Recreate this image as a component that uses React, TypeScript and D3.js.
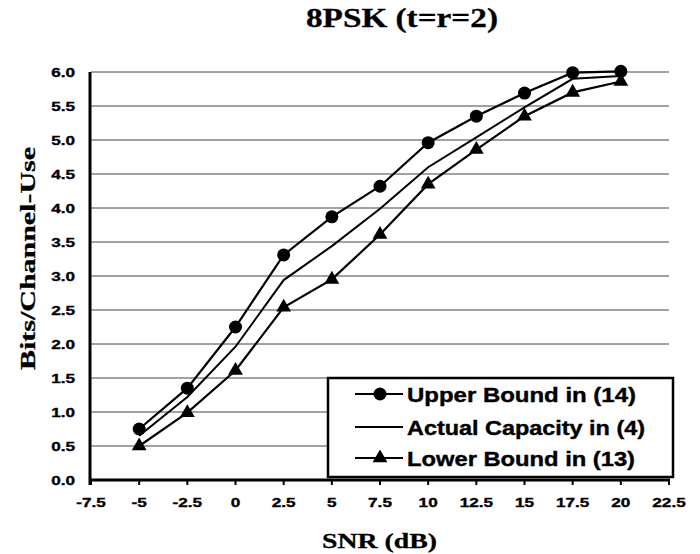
import React from "react";
import * as d3 from "d3";

const snr = [-5, -2.5, 0, 2.5, 5, 7.5, 10, 12.5, 15, 17.5, 20];
const upperBound = [0.75, 1.35, 2.25, 3.31, 3.87, 4.32, 4.96, 5.35, 5.69, 5.99, 6.01];
const actualCapacity = [0.65, 1.22, 1.96, 2.94, 3.44, 3.99, 4.6, 5.04, 5.48, 5.9, 5.94];
const lowerBound = [0.5, 0.99, 1.61, 2.54, 2.95, 3.61, 4.35, 4.86, 5.35, 5.7, 5.86];
const xTicks = [-7.5, -5, -2.5, 0, 2.5, 5, 7.5, 10, 12.5, 15, 17.5, 20, 22.5];
const yTicks = [0, 0.5, 1, 1.5, 2, 2.5, 3, 3.5, 4, 4.5, 5, 5.5, 6];
const legendLabels = ["Upper Bound in (14)", "Actual Capacity in (4)", "Lower Bound in (13)"];
const legendWidths = [229, 238, 228];

const W = 700;
const H = 554;
const SANS = "'Liberation Sans', Arial, sans-serif";
const SERIF = "'Liberation Serif', 'Times New Roman', serif";

export default function App() {
  const x = d3.scaleLinear().domain([-7.5, 22.5]).range([91, 669]);
  const y = d3.scaleLinear().domain([0, 6]).range([480, 72]);
  const line = d3
    .line<[number, number]>()
    .x((d) => x(d[0]))
    .y((d) => y(d[1]));
  const pts = (vals: number[]) => snr.map((s, i) => [s, vals[i]] as [number, number]);
  const tri = d3.symbol(d3.symbolTriangle, 95)();
  const fmtX = (v: number) => (Number.isInteger(v) ? String(v) : v.toFixed(1));

  const legendX = 328;
  const legendY = 378;
  const rows = [394, 427, 458];

  return (
    <svg
      width={W}
      height={H}
      style={{ position: "absolute", left: 0, top: 0, background: "#fff" }}
    >
      <rect x={0} y={0} width={W} height={H} fill="#fff" />
      {/* Title */}
      <text
        x={306}
        y={27}
        fontFamily={SERIF}
        fontWeight="bold"
        fontSize={27}
        textLength={192}
        lengthAdjust="spacingAndGlyphs"
        stroke="#000"
        strokeWidth={0.3}
      >
        8PSK (t=r=2)
      </text>

      {/* Grid lines */}
      {yTicks
        .filter((t) => t > 0)
        .map((t) => (
          <line
            key={"g" + t}
            x1={x(-7.5)}
            x2={x(22.5)}
            y1={y(t)}
            y2={y(t)}
            stroke="#444"
            strokeWidth={1}
          />
        ))}

      {/* Y tick labels */}
      {yTicks.map((t) => (
        <text
          key={"yl" + t}
          transform={`translate(75,${y(t) + 4.5}) scale(1.32,1)`}
          textAnchor="end"
          fontFamily={SANS}
          fontWeight="bold"
          fontSize={13}
          stroke="#000"
          strokeWidth={0.35}
        >
          {t.toFixed(1)}
        </text>
      ))}

      {/* X ticks and labels */}
      {xTicks.map((t) => (
        <g key={"xt" + t}>
          <line x1={x(t)} x2={x(t)} y1={480} y2={485} stroke="#000" strokeWidth={2} />
          <text
            transform={`translate(${x(t)},506.5) scale(1.32,1)`}
            textAnchor="middle"
            fontFamily={SANS}
            fontWeight="bold"
            fontSize={13}
            stroke="#000"
            strokeWidth={0.35}
          >
            {fmtX(t)}
          </text>
        </g>
      ))}

      {/* Axes */}
      <line x1={x(-7.5) - 1} x2={x(-7.5) - 1} y1={y(6)} y2={485} stroke="#000" strokeWidth={3} />
      <line x1={x(-7.5) - 2} x2={x(22.5) + 1} y1={480} y2={480} stroke="#000" strokeWidth={3} />

      {/* Series */}
      <path d={line(pts(actualCapacity)) || ""} fill="none" stroke="#000" strokeWidth={2} />
      <path d={line(pts(lowerBound)) || ""} fill="none" stroke="#000" strokeWidth={2.2} />
      <path d={line(pts(upperBound)) || ""} fill="none" stroke="#000" strokeWidth={2.2} />
      {pts(upperBound).map((d, i) => (
        <circle key={"u" + i} cx={x(d[0])} cy={y(d[1])} r={6.5} fill="#000" />
      ))}
      {pts(lowerBound).map((d, i) => (
        <path
          key={"l" + i}
          d={tri || ""}
          transform={`translate(${x(d[0])},${y(d[1])})`}
          fill="#000"
        />
      ))}

      {/* Legend */}
      <rect
        x={legendX}
        y={legendY}
        width={345}
        height={99}
        fill="#fff"
        stroke="#000"
        strokeWidth={2.5}
      />
      {rows.map((ry, i) => (
        <g key={"lg" + i}>
          <line x1={355} x2={403} y1={ry} y2={ry} stroke="#000" strokeWidth={2.2} />
          {i === 0 && <circle cx={380} cy={ry} r={6.5} fill="#000" />}
          {i === 2 && <path d={tri || ""} transform={`translate(380,${ry})`} fill="#000" />}
          <text
            x={407}
            y={ry + 8}
            fontFamily={SANS}
            fontWeight="bold"
            fontSize={20}
            textLength={legendWidths[i]}
            lengthAdjust="spacingAndGlyphs"
            stroke="#000"
            strokeWidth={0.4}
          >
            {legendLabels[i]}
          </text>
        </g>
      ))}

      {/* Axis titles */}
      <text
        x={322}
        y={548}
        fontFamily={SERIF}
        fontWeight="bold"
        fontSize={22}
        textLength={115}
        lengthAdjust="spacingAndGlyphs"
        stroke="#000"
        strokeWidth={0.3}
      >
        SNR (dB)
      </text>
      <text
        transform="translate(35,258.5) rotate(-90)"
        textAnchor="middle"
        fontFamily={SERIF}
        fontWeight="bold"
        fontSize={22}
        textLength={223}
        lengthAdjust="spacingAndGlyphs"
        stroke="#000"
        strokeWidth={0.3}
      >
        Bits/Channel-Use
      </text>
    </svg>
  );
}
